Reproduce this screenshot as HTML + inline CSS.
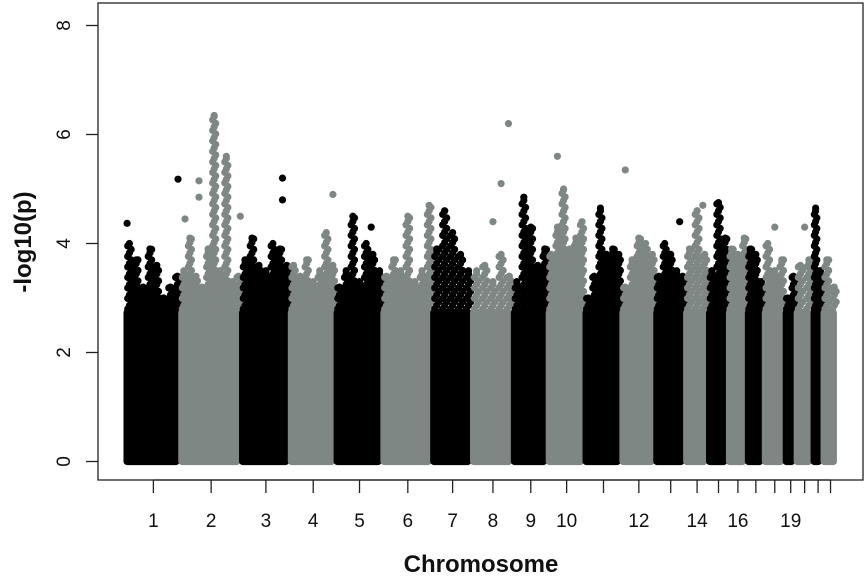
<!DOCTYPE html>
<html><head><meta charset="utf-8"><style>
html,body{margin:0;padding:0;background:#fff;}
svg{display:block;font-family:"Liberation Sans",sans-serif;}
</style></head><body>
<svg id="chart" width="866" height="576" viewBox="0 0 866 576" xmlns="http://www.w3.org/2000/svg"></svg>
<script>
const chromosomes=["1","2","3","4","5","6","7","8","9","10","11","12","13","14","15","16","17","18","19","20","21","22"];
const chromLengths=[55,61,49,46,47,50,40,41,35,37,37,34,30,23,20,19,17,21,11,17,10,15];
const shownLabels=["1","2","3","4","5","6","7","8","9","10","12","14","16","19"];
const yTicks=[0,2,4,6,8];
const denseLevel=2.8;
const binMaxima=[
[4.0,3.7,3.2,3.9,3.6,3.0,3.2,3.4],
[3.5,4.1,3.4,3.2,3.9,6.35,3.5,5.6,3.3,3.4],
[3.7,4.1,3.6,3.5,4.0,3.9,3.6],
[3.6,3.4,3.7,3.3,3.5,4.2,3.6],
[3.2,3.5,4.5,3.3,4.0,3.8,3.5],
[3.4,3.7,3.5,4.5,3.3,3.5,4.7],
[3.9,4.6,4.2,3.8,3.5],
[3.5,3.6,3.3,3.8,3.4],
[3.3,4.85,4.3,3.6,3.9],
[3.8,4.3,5.0,3.9,4.1,4.4],
[3.0,3.4,4.65,3.8,3.9,3.8],
[3.2,3.7,4.1,4.0,3.8],
[3.4,4.0,3.8,3.5,3.4],
[3.9,4.6,3.8],
[3.5,4.75,4.1],
[3.9,3.8,4.1],
[3.9,3.8,3.3],
[4.0,3.5,3.7],
[3.0,3.4],
[3.6,3.7],
[4.65,3.5],
[3.7,3.2]];
const outlierChrom=[1,1,2,2,2,2,3,3,4,5,8,8,8,10,12,13,14,18,20];
const outlierFrac=[0.02,0.95,0.07,0.3,0.3,0.98,0.84,0.84,0.93,0.75,0.7,0.88,0.5,0.25,0.1,0.8,0.75,0.5,0.5];
const outlierVal=[4.37,5.18,4.45,5.15,4.85,4.5,5.2,4.8,4.9,4.3,5.1,6.2,4.4,5.6,5.35,4.4,4.7,4.3,4.3];

const NS="http://www.w3.org/2000/svg";
const svg=document.getElementById('chart');
const X0=126,XSPAN=712,Y0=461.5,YPX=54.5,R=3.6;
const total=chromLengths.reduce((a,b)=>a+b,0);
const starts=[];let acc=0;chromLengths.forEach(l=>{starts.push(acc);acc+=l;});
const xs=v=>X0+v/total*XSPAN;
const ys=v=>Y0-v*YPX;
const col=i=>i%2===0?"#000000":"#7f8784";
function mk(tag,attrs,parent){const e=document.createElementNS(NS,tag);for(const k in attrs)e.setAttribute(k,attrs[k]);(parent||svg).appendChild(e);return e;}

const pts=mk('g',{});


chromosomes.forEach((c,i)=>{
  const g=mk('g',{},pts);
  
  
  const x1=xs(starts[i]),x2=xs(starts[i]+chromLengths[i]);
  const r=mk('rect',{x:x1-R*0.7,y:ys(denseLevel),width:Math.max(1,x2-x1+R*0.4),height:ys(0)-ys(denseLevel)+R,rx:R,fill:col(i)},g);
  
  
  const bins=binMaxima[i];const bw=(x2-x1)/bins.length;
  bins.forEach((m,b)=>{
    const cx=x1+bw*(b+0.5);
    const top=ys(m),bot=ys(denseLevel);
    for(let y=bot;y>=top;y-=3.5){
      const off=((Math.round((bot-y)/3.5))%3-1)*bw*0.25;
      const p=mk('circle',{cx:cx+off,cy:y,r:R,fill:col(i)},g);
      
      
    }
    const p=mk('circle',{cx:cx,cy:top,r:R,fill:col(i)},g);
    
    
  });
});
outlierChrom.forEach((c,k)=>{
  const i=c-1;
  const p=mk('circle',{cx:xs(starts[i]+chromLengths[i]*outlierFrac[k]),cy:ys(outlierVal[k]),r:R,fill:col(i)},pts);
  
  
});

const box=mk('rect',{x:98,y:3,width:765,height:477,fill:'none',stroke:'#222','stroke-width':1.3});



const ya=mk('g',{});


yTicks.forEach(t=>{
  const y=ys(t);
  mk('line',{x1:86,x2:98,y1:y,y2:y,stroke:'#222','stroke-width':1.3},ya);
  const tx=mk('text',{x:70,y:y,'font-size':19,'text-anchor':'middle',transform:`rotate(-90 70 ${y})`,fill:'#111'},ya);
  
  
  tx.textContent=t;
});

const xa=mk('g',{});


const centers=chromosomes.map((c,i)=>xs(starts[i]+chromLengths[i]/2));
mk('line',{x1:centers[0],x2:centers[21],y1:480,y2:480,stroke:'#222','stroke-width':1.3},xa);
chromosomes.forEach((c,i)=>{
  mk('line',{x1:centers[i],x2:centers[i],y1:480,y2:493,stroke:'#222','stroke-width':1.3},xa);
  if(shownLabels.includes(c)){
    const tx=mk('text',{x:centers[i],y:527,'font-size':19,'text-anchor':'middle',fill:'#111'},xa);
    
    
    tx.textContent=c;
  }
});
const xt=mk('text',{x:481,y:572,'font-size':24,'font-weight':'bold','text-anchor':'middle',fill:'#111'});


xt.textContent='Chromosome';
const yt=mk('text',{x:31,y:242,'font-size':24,'font-weight':'bold','text-anchor':'middle',transform:'rotate(-90 31 242)',fill:'#111'});


yt.textContent='-log10(p)';
</script>
</body></html>
